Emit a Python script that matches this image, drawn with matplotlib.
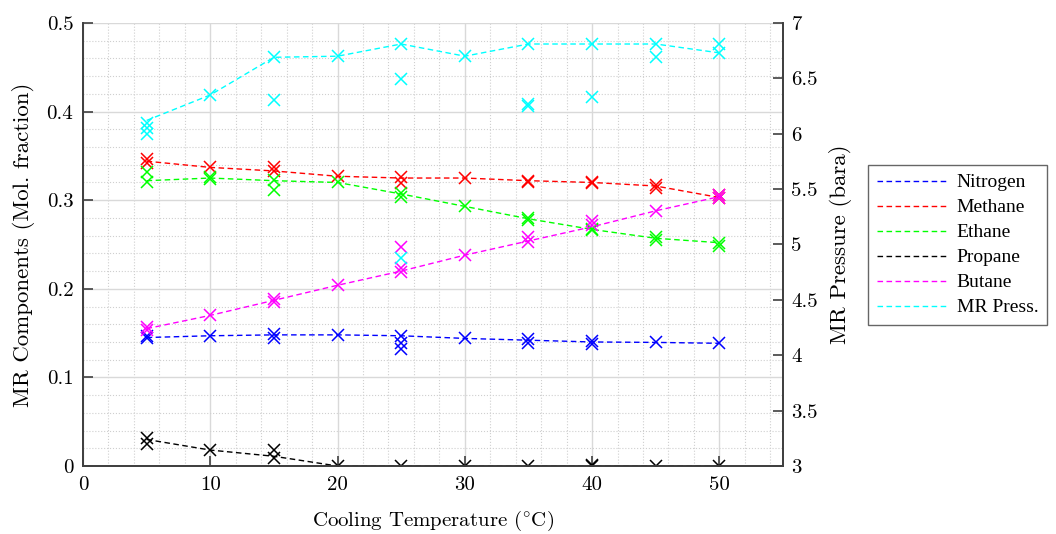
import numpy as np
import matplotlib
matplotlib.use('Agg')
import matplotlib.pyplot as plt
from matplotlib.ticker import MultipleLocator, FormatStrFormatter
from matplotlib.lines import Line2D

# ==== DATA ====
temps = [5, 10, 15, 20, 25, 30, 35, 40, 45, 50]

nitrogen_fit = [0.145, 0.147, 0.148, 0.148, 0.147, 0.144, 0.142, 0.140, 0.1395, 0.1385]
nitrogen_x = [5, 5, 10, 15, 15, 20, 25, 25, 25, 30, 35, 35, 40, 40, 45, 50]
nitrogen_y = [0.147, 0.144, 0.147, 0.149, 0.145, 0.148, 0.147, 0.139, 0.132, 0.144,
              0.143, 0.139, 0.141, 0.138, 0.1396, 0.1385]

methane_fit = [0.344, 0.337, 0.333, 0.327, 0.325, 0.325, 0.322, 0.320, 0.316, 0.303]
methane_x = [5, 5, 10, 15, 15, 20, 25, 25, 30, 35, 35, 40, 40, 45, 45, 50, 50]
methane_y = [0.346, 0.342, 0.338, 0.338, 0.333, 0.327, 0.326, 0.319, 0.325, 0.322,
             0.321, 0.320, 0.319, 0.317, 0.314, 0.306, 0.302]

ethane_fit = [0.322, 0.325, 0.322, 0.320, 0.307, 0.293, 0.279, 0.267, 0.257, 0.252]
ethane_x = [5, 5, 10, 10, 15, 15, 20, 25, 25, 30, 35, 35, 40, 40, 45, 45, 50, 50]
ethane_y = [0.332, 0.321, 0.3265, 0.324, 0.323, 0.311, 0.320, 0.308, 0.304, 0.293,
            0.280, 0.278, 0.268, 0.266, 0.258, 0.255, 0.252, 0.2485]

propane_fit = [0.030, 0.018, 0.011, 0.0, 0.0, 0.0, 0.0, 0.0, 0.0, 0.0]
propane_x = [5, 5, 10, 15, 15, 20, 25, 30, 35, 40, 40, 45, 50]
propane_y = [0.032, 0.025, 0.018, 0.018, 0.009, 0.0, 0.0, 0.0, 0.0, 0.0, 0.001, 0.0, 0.0]

butane_fit = [0.155, 0.170, 0.187, 0.204, 0.220, 0.238, 0.254, 0.270, 0.288, 0.304]
butane_x = [5, 5, 10, 15, 15, 20, 25, 25, 25, 30, 35, 35, 40, 40, 45, 50, 50]
butane_y = [0.157, 0.154, 0.170, 0.189, 0.185, 0.204, 0.2475, 0.223, 0.219, 0.238,
            0.259, 0.253, 0.2765, 0.272, 0.288, 0.306, 0.302]

press_fit = [6.12, 6.35, 6.69, 6.70, 6.81, 6.70, 6.81, 6.81, 6.81, 6.73]
press_x = [5, 5, 5, 10, 15, 15, 20, 25, 25, 25, 30, 35, 35, 35, 40, 40, 45, 45, 50, 50]
press_y = [6.10, 6.05, 6.00, 6.35, 6.69, 6.30, 6.70, 6.81, 6.49, 4.875, 6.70,
           6.81, 6.27, 6.25, 6.81, 6.33, 6.81, 6.69, 6.81, 6.73]

labels = ['Nitrogen', 'Methane', 'Ethane', 'Propane', 'Butane', 'MR Press.']
colors = ['#0000ff', '#ff0000', '#00ff00', '#000000', '#ff00ff', '#00ffff']
# ========================================

plt.rcParams['font.family'] = ['cmr10', 'Liberation Serif', 'DejaVu Serif']
plt.rcParams['mathtext.fontset'] = 'cm'
plt.rcParams['font.size'] = 15

dash = (0, (4, 2.5))

fig = plt.figure(figsize=(10.56, 5.34), dpi=100)
ax = fig.add_axes([0.0786, 0.1273, 0.6629, 0.8297])
ax2 = ax.twinx()

left_series = [
    (nitrogen_fit, nitrogen_x, nitrogen_y),
    (methane_fit, methane_x, methane_y),
    (ethane_fit, ethane_x, ethane_y),
    (propane_fit, propane_x, propane_y),
    (butane_fit, butane_x, butane_y),
]
for (fit, xs, ys), c in zip(left_series, colors[:5]):
    ax.plot(temps, fit, linestyle=dash, color=c, lw=1.0, zorder=3)
    ax.plot(xs, ys, linestyle='none', marker='x', ms=9, mew=1.1, color=c, zorder=4)

ax2.plot(temps, press_fit, linestyle=dash, color=colors[5], lw=1.0, zorder=3)
ax2.plot(press_x, press_y, linestyle='none', marker='x', ms=9, mew=1.1,
         color=colors[5], zorder=4)

ax.set_xlim(0, 55)
ax.set_ylim(0, 0.5)
ax2.set_ylim(3, 7)

ax.xaxis.set_major_locator(MultipleLocator(10))
ax.xaxis.set_minor_locator(MultipleLocator(2))
ax.yaxis.set_major_locator(MultipleLocator(0.1))
ax.yaxis.set_minor_locator(MultipleLocator(0.02))
ax2.yaxis.set_major_locator(MultipleLocator(0.5))
ax.yaxis.set_major_formatter(FormatStrFormatter('%g'))
ax2.yaxis.set_major_formatter(FormatStrFormatter('%g'))

ax.grid(which='major', color='#d9d9d9', lw=1.0, ls='-')
ax.grid(which='minor', color='#cfcfcf', lw=0.8, ls=':')
ax.set_axisbelow(True)

for a in (ax, ax2):
    a.tick_params(which='major', direction='in', length=7, width=1.2,
                  color='#404040', labelsize=15)
    a.tick_params(which='minor', length=0)
    a.spines['top'].set_visible(False)
    for s in ('left', 'right', 'bottom'):
        a.spines[s].set_color('#404040')
        a.spines[s].set_linewidth(1.3)
ax.tick_params(axis='y', pad=7)
ax.tick_params(axis='x', pad=7)
ax2.tick_params(axis='y', pad=6)

ax.set_xlabel(r'Cooling Temperature ($^{\circ}$C)', fontsize=15, labelpad=11)
ax.set_ylabel('MR Components (Mol. fraction)', fontsize=16.5, labelpad=8)
ax2.set_ylabel('MR Pressure (bara)', fontsize=16.5, labelpad=8)

handles = [Line2D([], [], color=c, linestyle=dash, lw=1.0) for c in colors]
leg = fig.legend(handles, labels, loc='upper left', bbox_to_anchor=(0.822, 0.691),
                 prop={'family': 'Liberation Serif', 'size': 14}, frameon=True,
                 fancybox=False, edgecolor='#404040', handlelength=3.6,
                 labelspacing=0.38, handletextpad=0.5, borderpad=0.45,
                 borderaxespad=0)
leg.get_frame().set_linewidth(1.0)

fig.savefig('out.png', dpi=100)
